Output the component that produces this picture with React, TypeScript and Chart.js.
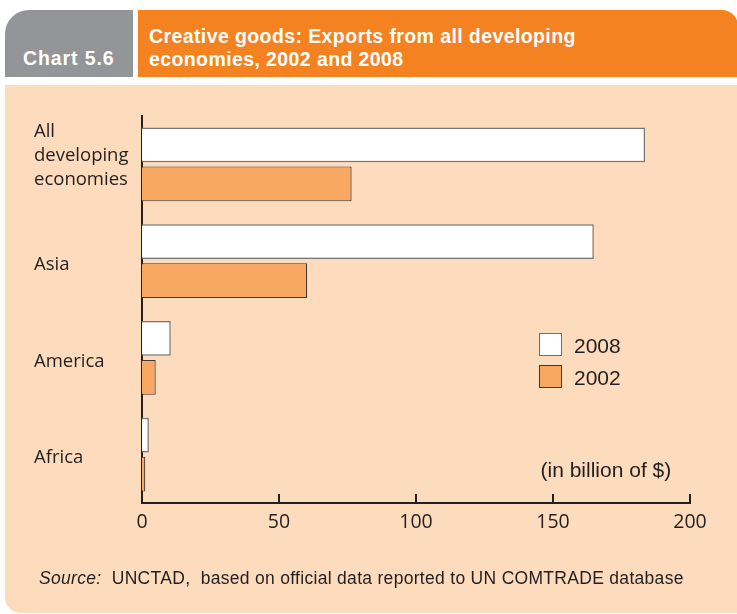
import React, { useEffect, useRef } from "react";
import { Chart, registerables } from "chart.js";

Chart.register(...registerables);

// ---- data ----
const categories: (string | string[])[] = [["All", "developing", "economies"], "Asia", "America", "Africa"];
const seriesLabels = ["2008", "2002"];
const values2008 = [183.6, 164.9, 10.5, 2.5];
const values2002 = [76.5, 60.3, 5.0, 1.2];
const xTicks = [0, 50, 100, 150, 200];

// ---- styles ----
const INK = "#231f20";
const PEACH = "#FDDBBD";
const ORANGE = "#F58220";
const GREY = "#939598";
const FILL_2008 = "#FFFFFF";
const EDGE_2008 = "#767676";
const FILL_2002 = "#F9A862";
const EDGE_2002 = "#3a3a3a";
const SANS = '"Liberation Sans", Arial, sans-serif';
const MYRIAD = '"Open Sans", "Noto Sans", sans-serif';

const innerTicks = {
  id: "innerTicks",
  afterDraw(chart: any) {
    const xs = chart.scales.x;
    const { ctx, chartArea } = chart;
    ctx.save();
    ctx.strokeStyle = INK;
    ctx.lineWidth = 2;
    xs.ticks.forEach((t: any) => {
      const px = Math.round(xs.getPixelForValue(t.value));
      ctx.beginPath();
      ctx.moveTo(px, chartArea.bottom);
      ctx.lineTo(px, chartArea.bottom - 9);
      ctx.stroke();
    });
    ctx.restore();
  },
};

function BarChart() {
  const ref = useRef<HTMLCanvasElement | null>(null);
  useEffect(() => {
    if (!ref.current) return;
    const chart = new Chart(ref.current, {
      type: "bar",
      data: {
        labels: categories as any,
        datasets: [
          {
            label: seriesLabels[0],
            data: values2008,
            backgroundColor: FILL_2008,
            borderColor: EDGE_2008,
            borderWidth: 1.5,
            categoryPercentage: 0.806,
            barPercentage: 0.897,
          },
          {
            label: seriesLabels[1],
            data: values2002,
            backgroundColor: FILL_2002,
            borderColor: EDGE_2002,
            borderWidth: 1.2,
            categoryPercentage: 0.806,
            barPercentage: 0.897,
          },
        ],
      },
      options: {
        indexAxis: "y",
        animation: false,
        responsive: false,
        devicePixelRatio: 1,
        layout: { padding: { left: 34, right: 47, top: 116, bottom: 71 } },
        plugins: { legend: { display: false }, tooltip: { enabled: false } },
        scales: {
          y: {
            type: "category",
            position: "left",
            offset: true,
            z: 1,
            grid: { display: false, drawTicks: false },
            border: { display: true, color: INK, width: 2 },
            ticks: {
              autoSkip: false,
              crossAlign: "far",
              padding: 0,
              labelOffset: 3.5,
              color: INK,
              font: { family: MYRIAD, size: 18.5, lineHeight: 1.32 },
              callback: (_v: any, i: number) => {
                const l = categories[i];
                return Array.isArray(l) && l.length > 1 ? [...l, ""] : l;
              },
            },
            afterFit: (s: any) => {
              s.width = 108;
            },
          },
          x: {
            type: "linear",
            min: xTicks[0],
            max: xTicks[xTicks.length - 1],
            z: 1,
            grid: { display: false, drawTicks: false },
            border: { display: true, color: INK, width: 2 },
            afterBuildTicks: (s: any) => {
              s.ticks = xTicks.map((v) => ({ value: v }));
            },
            ticks: {
              padding: 8,
              color: INK,
              maxRotation: 0,
              autoSkip: false,
              font: { family: MYRIAD, size: 19.5, lineHeight: 1.2 },
            },
            afterFit: (s: any) => {
              s.height = 40;
            },
          },
        },
      } as any,
      plugins: [innerTicks],
    });
    return () => chart.destroy();
  }, []);
  return (
    <canvas
      ref={ref}
      width={737}
      height={614}
      style={{ position: "absolute", left: 0, top: 0, width: 737, height: 614, zIndex: 2 }}
    />
  );
}

export default function App() {
  const legendItems = [
    { label: seriesLabels[0], fill: FILL_2008, edge: "#6d6e71", top: 333 },
    { label: seriesLabels[1], fill: FILL_2002, edge: "#3a3a3a", top: 365 },
  ];
  return (
    <div
      style={{
        position: "absolute",
        left: 0,
        top: 0,
        width: 737,
        height: 614,
        overflow: "hidden",
        background: "#ffffff",
        fontFamily: SANS,
      }}
    >
      {/* header */}
      <div
        style={{
          position: "absolute",
          left: 5,
          top: 10,
          width: 128,
          height: 67,
          background: GREY,
          borderTopLeftRadius: 24,
        }}
      />
      <div
        style={{
          position: "absolute",
          left: 23,
          top: 49,
          fontWeight: "bold",
          fontSize: 19.5,
          lineHeight: "19.5px",
          letterSpacing: 0.9,
          color: "#fff",
          whiteSpace: "nowrap",
        }}
      >
        Chart 5.6
      </div>
      <div
        style={{
          position: "absolute",
          left: 137.5,
          top: 10,
          width: 600,
          height: 67,
          background: ORANGE,
          borderTopRightRadius: 16,
        }}
      />
      <div
        style={{
          position: "absolute",
          left: 149,
          top: 25.4,
          fontWeight: "bold",
          fontSize: 19.5,
          lineHeight: "22.4px",
          letterSpacing: 0.4,
          color: "#fff",
          whiteSpace: "nowrap",
        }}
      >
        Creative goods: Exports from all developing
        <br />
        economies, 2002 and 2008
      </div>
      {/* panel */}
      <div
        style={{
          position: "absolute",
          left: 5,
          top: 85,
          width: 760,
          height: 528,
          background: PEACH,
          borderBottomLeftRadius: 16,
        }}
      />
      {/* legend */}
      {legendItems.map((it) => (
        <React.Fragment key={it.label}>
          <div
            style={{
              position: "absolute",
              left: 539,
              top: it.top,
              width: 23,
              height: 23,
              boxSizing: "border-box",
              background: it.fill,
              border: `1.5px solid ${it.edge}`,
              zIndex: 3,
            }}
          />
          <div
            style={{
              position: "absolute",
              left: 574,
              top: it.top + 1.5,
              fontSize: 21,
              lineHeight: "21px",
              color: INK,
              zIndex: 3,
            }}
          >
            {it.label}
          </div>
        </React.Fragment>
      ))}
      <div
        style={{
          position: "absolute",
          left: 540.5,
          top: 459,
          fontSize: 21,
          lineHeight: "21px",
          color: INK,
          whiteSpace: "nowrap",
          zIndex: 3,
        }}
      >
        (in billion of $)
      </div>
      <div
        style={{
          position: "absolute",
          left: 39,
          top: 570,
          fontSize: 17.5,
          lineHeight: "17.5px",
          letterSpacing: 0.3,
          color: INK,
          whiteSpace: "pre",
          zIndex: 3,
        }}
      >
        <i>Source:</i>
        {"  UNCTAD,  based on official data reported to UN COMTRADE database"}
      </div>
      <BarChart />
    </div>
  );
}
